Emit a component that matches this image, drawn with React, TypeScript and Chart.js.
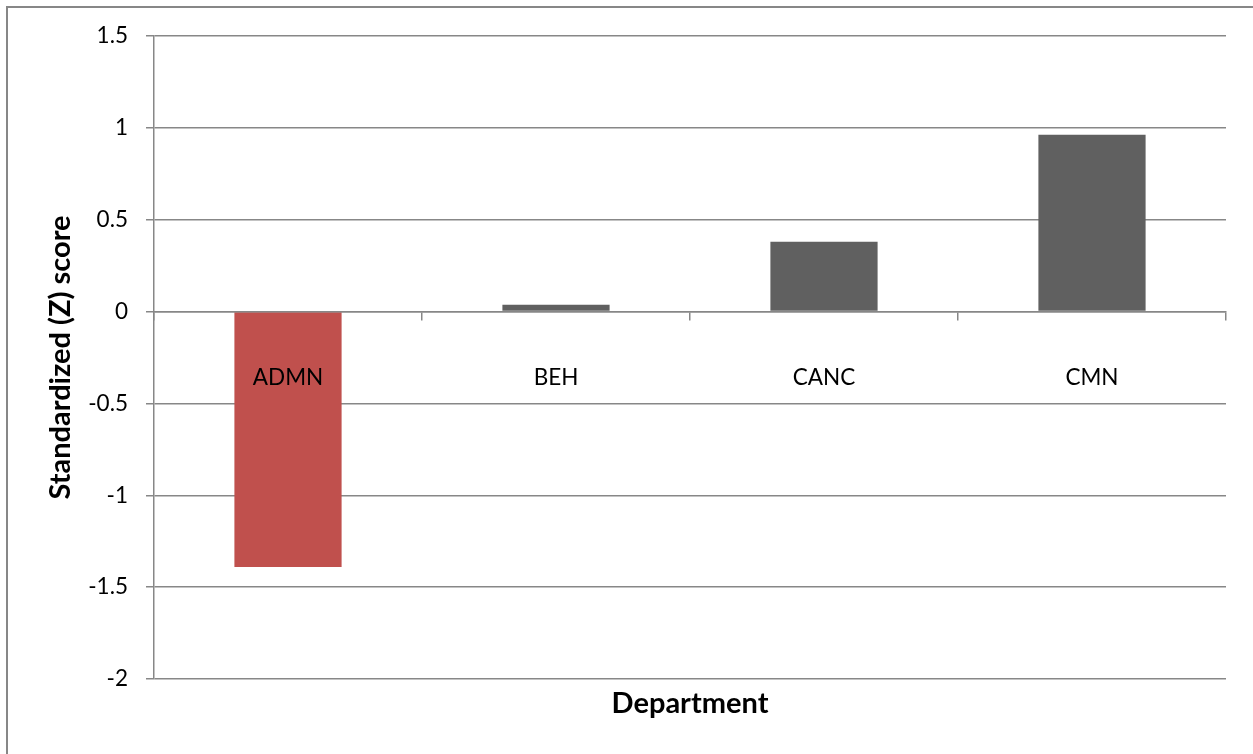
import React, { useEffect, useRef } from "react";
import { Chart, registerables } from "chart.js";

Chart.register(...registerables);

const categories = ["ADMN", "BEH", "CANC", "CMN"];
const zScores = [-1.39, 0.037, 0.38, 0.962];
const barColors = ["#C0504D", "#606060", "#606060", "#606060"];
const yMin = -2;
const yMax = 1.5;
const yStep = 0.5;
const yTitle = "Standardized (Z) score";
const xTitle = "Department";

const FONT = "Lato, 'Noto Sans', sans-serif";
const GRID = "#878787";
const TICK_SIZE = 22.5;
const TITLE_SIZE = 29;

export default function App() {
  const ref = useRef<HTMLCanvasElement | null>(null);

  useEffect(() => {
    if (!ref.current) return;
    const chart = new Chart(ref.current, {
      type: "bar",
      data: {
        labels: categories,
        datasets: [
          {
            data: zScores,
            backgroundColor: barColors,
            borderWidth: 0,
            categoryPercentage: 1,
            barPercentage: 0.4,
            xAxisID: "x",
          },
        ],
      },
      options: {
        responsive: false,
        animation: false,
        devicePixelRatio: 1,
        layout: { padding: { left: 0, top: 36, right: 27, bottom: 0 } },
        plugins: {
          legend: { display: false },
          tooltip: { enabled: false },
        },
        scales: {
          x: {
            type: "category",
            position: { y: 0 } as any,
            offset: true,
            grid: {
              display: true,
              drawOnChartArea: false,
              drawTicks: true,
              tickLength: 8,
              color: GRID,
              lineWidth: 1.5,
              offset: true,
              z: 1,
            },
            border: { display: true, color: GRID, width: 1.5, z: 1 },
            ticks: {
              color: "#000",
              font: { family: FONT, size: TICK_SIZE },
              padding: 45,
              maxRotation: 0,
              z: 2,
            },
          },
          xTitle: {
            type: "category",
            position: "bottom",
            labels: categories,
            grid: { display: false },
            border: { display: false },
            ticks: { display: false },
            title: {
              display: true,
              text: xTitle,
              color: "#000",
              font: { family: FONT, size: TITLE_SIZE, weight: "bold" },
              padding: { top: 0, bottom: 33 },
            },
            afterFit: (s: any) => {
              s.height = 75;
            },
          },
          y: {
            type: "linear",
            min: yMin,
            max: yMax,
            ticks: {
              stepSize: yStep,
              color: "#000",
              font: { family: FONT, size: TICK_SIZE },
              padding: 18,
              callback: (v: any) => String(v),
            },
            grid: {
              color: GRID,
              lineWidth: 1.5,
              tickLength: 8,
              drawTicks: true,
            },
            border: { display: true, color: GRID, width: 1.5 },
            title: {
              display: true,
              text: yTitle,
              color: "#000",
              font: { family: FONT, size: TITLE_SIZE, weight: "bold" },
              padding: { top: 43, bottom: 0 },
            },
            afterFit: (s: any) => {
              s.width = 154;
            },
          },
        },
      },
    });
    return () => chart.destroy();
  }, []);

  return (
    <div
      style={{
        position: "fixed",
        left: 0,
        top: 0,
        width: 1253,
        height: 754,
        background: "#fff",
        overflow: "hidden",
      }}
    >
      <div
        style={{
          position: "absolute",
          left: 6,
          top: 6,
          width: 1400,
          height: 900,
          borderLeft: "2px solid #878787",
          borderTop: "2px solid #878787",
        }}
      />
      <canvas
        ref={ref}
        width={1253}
        height={754}
        style={{ position: "absolute", left: 0, top: 0, width: 1253, height: 754 }}
      />
    </div>
  );
}
